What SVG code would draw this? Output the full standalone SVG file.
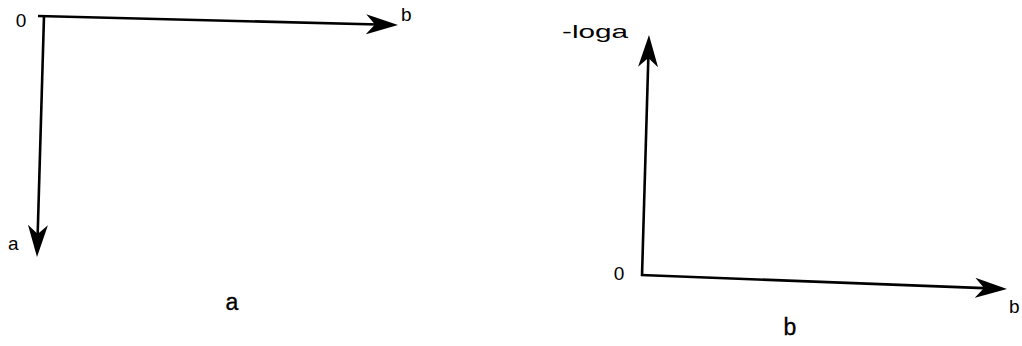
<svg xmlns="http://www.w3.org/2000/svg" width="1022" height="346" viewBox="0 0 1022 346">
  <style>
    .axis { fill: none; stroke: #000; stroke-width: 2.6; stroke-linecap: butt; }
    .lbl { font-family: "Liberation Sans", Arial, sans-serif; font-size: 19px; fill: #000; }
    .cap { font-family: "Liberation Sans", Arial, sans-serif; font-size: 23px; fill: #000; stroke: #000; stroke-width: 0.35; text-anchor: middle; }
  </style>
  <defs>
    <marker id="arr" markerUnits="userSpaceOnUse" viewBox="0 0 32 20" markerWidth="32" markerHeight="20" refX="22" refY="10" orient="auto">
      <path d="M0,0 L32,10 L0,20 L9,10 Z" fill="#000"/>
    </marker>
  </defs>
  <rect width="1022" height="346" fill="#fff"/>
  <g id="connectors">
    <line class="axis" x1="38" y1="16" x2="388" y2="24.75" marker-end="url(#arr)"/>
    <line class="axis" x1="44" y1="16" x2="37.3" y2="247" marker-end="url(#arr)"/>
    <line class="axis" x1="642" y1="276" x2="648.7" y2="45" marker-end="url(#arr)"/>
    <line class="axis" x1="641" y1="275" x2="997" y2="288.6" marker-end="url(#arr)"/>
  </g>
  <g id="panel-a">
    <text class="lbl" x="21" y="27" text-anchor="middle">0</text>
    <text class="lbl" x="401" y="21">b</text>
    <text class="lbl" x="8" y="250">a</text>
    <text class="cap" x="232" y="310">a</text>
  </g>
  <g id="panel-b">
    <text class="lbl" x="562" y="38" textLength="66" lengthAdjust="spacingAndGlyphs">-loga</text>
    <text class="lbl" x="619" y="280" text-anchor="middle">0</text>
    <text class="lbl" x="1009" y="313">b</text>
    <text class="cap" x="790" y="335">b</text>
  </g>
</svg>
